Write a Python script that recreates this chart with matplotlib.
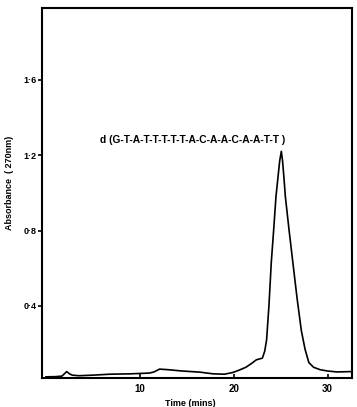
import matplotlib
matplotlib.use("Agg")
import matplotlib.pyplot as plt

# Data
time_min = [0.0, 1.0, 1.7, 2.0, 2.2, 2.5, 2.8, 3.5, 5.0, 6.8, 9.0, 11.0, 11.5, 12.1, 13.0, 14.5,
            16.4, 17.8, 19.0, 19.9, 20.6, 21.3, 21.9, 22.4, 22.8, 23.05, 23.3, 23.5, 23.75,
            24.0, 24.25, 24.5, 24.75, 24.9, 25.07, 25.2, 25.35, 25.5, 25.9, 26.3, 26.75,
            27.2, 27.6, 28.0, 28.5, 29.2, 30.0, 31.0, 32.6]
absorbance = [0.024, 0.025, 0.028, 0.042, 0.052, 0.040, 0.033, 0.030, 0.033, 0.038, 0.040, 0.044,
              0.050, 0.065, 0.062, 0.055, 0.049, 0.040, 0.038, 0.047, 0.060, 0.075, 0.095, 0.114,
              0.120, 0.123, 0.16, 0.22, 0.40, 0.63, 0.80, 0.98, 1.10, 1.17, 1.22, 1.17, 1.08,
              0.98, 0.80, 0.63, 0.44, 0.27, 0.17, 0.10, 0.075, 0.062, 0.055, 0.050, 0.052]

y_ticks = [0.4, 0.8, 1.2, 1.6]
y_tick_labels = ["0·4", "0·8", "1·2", "1·6"]
x_ticks = [10, 20, 30]
x_tick_labels = ["10", "20", "30"]
annotation = "d (G-T-A-T-T-T-T-T-A-C-A-A-C-A-A-T-T )"

plt.rcParams['font.family'] = ['Liberation Sans', 'DejaVu Sans']

fig = plt.figure(figsize=(3.57, 4.07), dpi=100)
ax = fig.add_axes([0.117, 0.0713, 0.869, 0.909])
ax.plot(time_min, absorbance, color='black', lw=1.2, solid_joinstyle='round')

ax.set_xlim(-0.45, 32.6)
ax.set_ylim(0.018, 1.98)

ax.set_yticks(y_ticks)
ax.set_yticklabels(y_tick_labels, fontsize=6.5, fontweight='bold')
ax.set_xticks(x_ticks)
ax.set_xticklabels(x_tick_labels, fontsize=7, fontweight='bold')
ax.tick_params(axis='y', direction='out', length=3, width=1.2, pad=1)
ax.tick_params(axis='x', direction='in', length=3, width=1.2, pad=4)

for s in ax.spines.values():
    s.set_linewidth(1.5)

ax.set_ylabel("Absorbance  ( 270nm)", fontsize=6.5, fontweight='bold')
ax.yaxis.set_label_coords(-0.089, 0.527)
ax.set_xlabel("Time (mins)", fontsize=6.5, fontweight='bold')
ax.xaxis.set_label_coords(0.478, -0.057)

ax.text(15.6, 1.28, annotation, fontsize=7.4, fontweight='bold', ha='center', va='center')

fig.savefig("out.png", dpi=100)
